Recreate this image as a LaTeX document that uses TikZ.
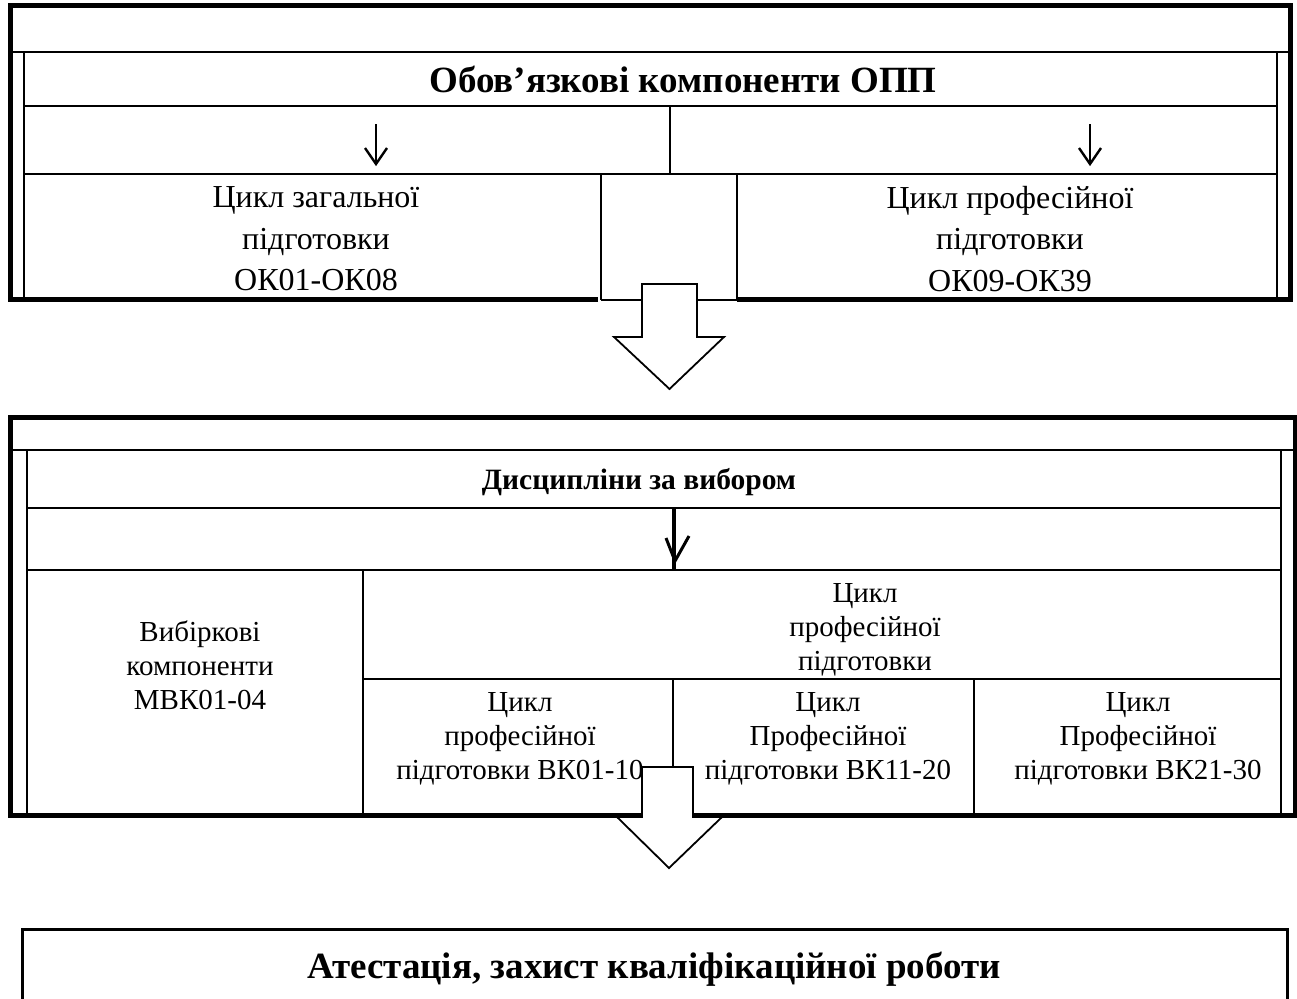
\documentclass[tikz,border=0pt]{standalone}
\usepackage{fontspec}
\setmainfont{Liberation Serif}
\begin{document}
\begin{tikzpicture}[x=1pt,y=-1pt,
  gridline/.style={line width=1.8pt},
  framebold/.style={line width=5pt},
  arrowline/.style={line width=2.4pt},
  blockarrow/.style={line width=1.8pt, fill=white, line join=miter},
  cell/.style={align=center, inner sep=0pt, font=\fontsize{32}{41.5}\selectfont},
  cellsmall/.style={align=center, inner sep=0pt, font=\fontsize{29}{34}\selectfont},
  titlebig/.style={inner sep=0pt, font=\bfseries\fontsize{37}{40}\selectfont},
  titlesmall/.style={inner sep=0pt, font=\bfseries\fontsize{29.5}{32}\selectfont},
  titlebottom/.style={inner sep=0pt, font=\bfseries\fontsize{37}{40}\selectfont}]
\useasboundingbox (0,0) rectangle (1297,998);
\fill[white] (0,0) rectangle (1297,998);

% ---------- top section ----------
\draw[gridline] (10,52) -- (1290,52);
\draw[gridline] (24,52) -- (24,300);
\draw[gridline] (1277,52) -- (1277,300);
\draw[gridline] (24,106) -- (1277,106);
\draw[gridline] (24,174) -- (1277,174);
\draw[gridline] (670,106) -- (670,174);
\draw[gridline] (601,174) -- (601,300);
\draw[gridline] (737,174) -- (737,300);
\draw[gridline] (601,300) -- (737,300);
\draw[framebold] (598,299) -- (10,299) -- (10,6) -- (1290,6) -- (1290,299) -- (737,299);

\node[titlebig] (t1) at (683,79) {Обов’язкові компоненти ОПП};
\draw[arrowline] (376,124) -- (376,163);
\draw[arrowline] (365,148) -- (376,164) -- (387,148);
\draw[arrowline] (1090,124) -- (1090,163);
\draw[arrowline] (1079,148) -- (1090,164) -- (1101,148);
\node[cell] (zag) at (316,239) {Цикл загальної\\підготовки\\ОК01-ОК08};
\node[cell] (prof) at (1010,239) {Цикл професійної\\підготовки\\ОК09-ОК39};

\draw[blockarrow] (642,284) -- (697,284) -- (697,337) -- (724,337) -- (669.5,389) -- (614,337) -- (642,337) -- cycle;

% ---------- middle section ----------
\draw[gridline] (10,450) -- (1295,450);
\draw[gridline] (27,450) -- (27,816);
\draw[gridline] (1281,450) -- (1281,816);
\draw[gridline] (27,508) -- (1281,508);
\draw[gridline] (27,570) -- (1281,570);
\draw[gridline] (363,570) -- (363,816);
\draw[gridline] (363,679) -- (1281,679);
\draw[gridline] (673,679) -- (673,780);
\draw[gridline] (974,679) -- (974,816);
\draw[framebold] (10,815) -- (10,417) -- (1295,417) -- (1295,815) -- cycle;
\draw[line width=4pt] (674,508) -- (674,570);
\draw[line width=3pt] (666,538) -- (675,561) -- (689,536);

\node[titlesmall] (dis) at (639,482) {Дисципліни за вибором};
\node[cellsmall] (vib) at (200,665) {Вибіркові\\компоненти\\МВК01-04};
\node[cellsmall] (cp) at (865,630) {Цикл\\професійної\\підготовки};
\node[cellsmall] (vk1) at (520,739) {Цикл\\професійної\\підготовки ВК01-10};
\node[cellsmall] (vk2) at (828,739) {Цикл\\Професійної\\підготовки ВК11-20};
\node[cellsmall] (vk3) at (1138,739) {Цикл\\Професійної\\підготовки ВК21-30};

\draw[blockarrow] (642,767) -- (693,767) -- (693,817) -- (722,817) -- (669,868) -- (617,817) -- (642,817) -- cycle;

% ---------- bottom ----------
\draw[line width=3pt] (22,1010) -- (22,929) -- (1287,929) -- (1287,1010);
\node[titlebottom] (att) at (654,969.5) {Атестація, захист кваліфікаційної роботи};
\end{tikzpicture}
\end{document}
